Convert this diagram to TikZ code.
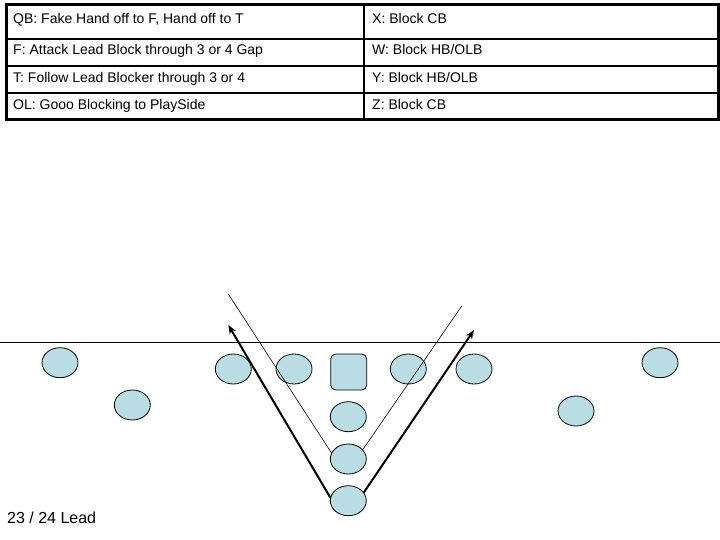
\documentclass[tikz,border=0pt]{standalone}
\usepackage{fontspec}
\setmainfont{Liberation Sans}
\usetikzlibrary{shapes.geometric,arrows.meta}
\definecolor{playerblue}{RGB}{185,221,227}
\tikzset{
  player/.style={ellipse,draw,line width=0.8pt,fill=playerblue,minimum width=36pt,minimum height=30pt,inner sep=0pt},
  snapper/.style={rectangle,rounded corners=5pt,draw,line width=0.8pt,fill=playerblue,minimum size=36pt,inner sep=0pt},
  cell/.style={anchor=base west,inner sep=0pt,font=\fontsize{14}{16}\selectfont},
  run/.style={line width=2pt,-{Stealth[length=9pt,width=7pt]}},
  fake/.style={line width=0.6pt}
}

\begin{document}
\begin{tikzpicture}[x=1pt,y=-1pt]
\useasboundingbox (0,0) rectangle (720,540);

% Table
\draw[line width=2pt] (6,39) -- (718,39);
\draw[line width=2pt] (6,66) -- (718,66);
\draw[line width=2pt] (6,93) -- (718,93);
\draw[line width=2pt] (364,5) -- (364,120);
\draw[line width=3pt] (6,5) rectangle (718,120);

\node[cell] (qbtxt) at (13,23.5) {QB: Fake Hand off to F, Hand off to T};
\node[cell] (ftxt) at (13,55) {F: Attack Lead Block through 3 or 4 Gap};
\node[cell] (ttxt) at (13,82.5) {T: Follow Lead Blocker through 3 or 4};
\node[cell] (oltxt) at (13,109.5) {OL: Gooo Blocking to PlaySide};
\node[cell] (xtxt) at (372,23.5) {X: Block CB};
\node[cell] (wtxt) at (372,55) {W: Block HB/OLB};
\node[cell] (ytxt) at (372,82.5) {Y: Block HB/OLB};
\node[cell] (ztxt) at (372,109.5) {Z: Block CB};

% Line of scrimmage
\draw[line width=1pt] (0,342.5) -- (720,342.5);

% Players
\node[player] (x) at (60,362.7) {};
\node[player] (w) at (132.3,405) {};
\node[player] (lt) at (233.3,369) {};
\node[player] (lg) at (294,369) {};
\node[snapper] (c) at (348.7,372) {};
\node[player] (rg) at (408.3,369) {};
\node[player] (rt) at (474,369) {};
\node[player] (y) at (576,411) {};
\node[player] (z) at (660,362.7) {};
\node[player] (qb) at (348.3,416.7) {};
\node[player] (f) at (348.3,459) {};
\node[player] (t) at (348.3,500.7) {};

% Routes
\coordinate (f3) at (228.3,294);
\coordinate (f4) at (461.7,306);
\coordinate (t3) at (228.3,325);
\coordinate (t4) at (474,330);
\draw[fake] (f.160) -- (f3);
\draw[fake] (f.33) -- (f4);
\draw[run] (t.170) -- (t3);
\draw[run] (t.28) -- (t4);

% Play name
\node[anchor=base west,inner sep=0pt,font=\fontsize{16}{18}\selectfont] (play) at (7,523) {23 / 24 Lead};
\end{tikzpicture}
\end{document}
